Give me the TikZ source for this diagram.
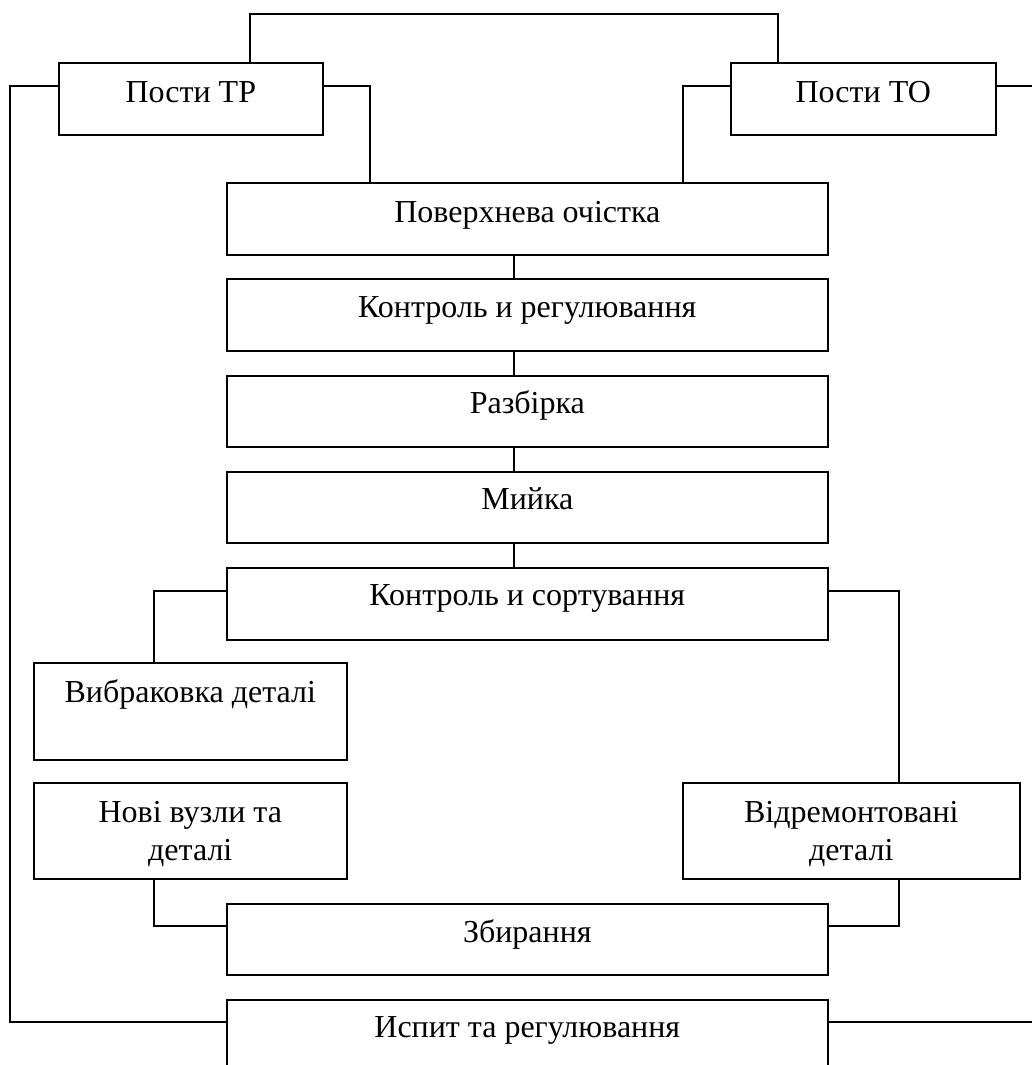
\documentclass[tikz,border=0pt]{standalone}
\usepackage{fontspec}
\setmainfont{Liberation Serif}
\usetikzlibrary{calc}
\begin{document}
\begin{tikzpicture}[x=1pt,y=-1pt,
  box/.style={draw, line width=1.6pt, inner sep=0pt, anchor=north west},
  lbl/.style={anchor=base, font=\fontsize{32}{38}\selectfont, inner sep=0pt, align=center},
  conn/.style={line width=1.4pt}]
\useasboundingbox (0,0) rectangle (1032,1065);
\clip (0,0) rectangle (1032,1065);
% boxes
\node[box, minimum width=264pt, minimum height=72pt] (tr) at (58,62) {};
\node[box, minimum width=265pt, minimum height=72pt] (to) at (730,62) {};
\node[box, minimum width=601pt, minimum height=72pt] (pov) at (226,182) {};
\node[box, minimum width=601pt, minimum height=72pt] (kr) at (226,278) {};
\node[box, minimum width=601pt, minimum height=71pt] (rozb) at (226,375) {};
\node[box, minimum width=601pt, minimum height=71pt] (myi) at (226,471) {};
\node[box, minimum width=601pt, minimum height=72pt] (ks) at (226,567) {};
\node[box, minimum width=313pt, minimum height=97pt] (vyb) at (33,662) {};
\node[box, minimum width=313pt, minimum height=96pt] (nov) at (33,782) {};
\node[box, minimum width=337pt, minimum height=96pt] (vidr) at (682,782) {};
\node[box, minimum width=601pt, minimum height=71pt] (zb) at (226,903) {};
\node[box, minimum width=601pt, minimum height=120pt] (isp) at (226,999) {};
% labels
\node[lbl] (ttr) at ($(tr.north)+(0,40)$) {Пости ТР};
\node[lbl] (tto) at ($(to.north)+(0,40)$) {Пости ТО};
\node[lbl] (tpov) at ($(pov.north)+(0,40)$) {Поверхнева очістка};
\node[lbl] (tkr) at ($(kr.north)+(0,39)$) {Контроль и регулювання};
\node[lbl] (trozb) at ($(rozb.north)+(0,38)$) {Разбірка};
\node[lbl] (tmyi) at ($(myi.north)+(0,38)$) {Мийка};
\node[lbl] (tks) at ($(ks.north)+(0,38)$) {Контроль и сортування};
\node[lbl] (tvyb) at ($(vyb.north)+(0,40)$) {Вибраковка деталі};
\node[lbl] (tnov) at ($(nov.north)+(0,78)$) {Нові вузли та\\деталі};
\node[lbl] (tvidr) at ($(vidr.north)+(0,78)$) {Відремонтовані\\деталі};
\node[lbl] (tzb) at ($(zb.north)+(0,39)$) {Збирання};
\node[lbl] (tisp) at ($(isp.north)+(0,38)$) {Испит та регулювання};
% helper coordinates
\coordinate (topL) at (250,14);
\coordinate (topR) at (778,14);
\coordinate (a) at (370,86);
\coordinate (b) at (683,86);
\coordinate (lft) at (10,86);
\coordinate (lfb) at (10,1022);
\coordinate (re) at (1040,86);
\coordinate (re2) at (1040,1022);
\coordinate (cx) at (514,0);
\coordinate (c) at (154,591);
\coordinate (d) at (899,591);
\coordinate (e) at (154,926);
\coordinate (f) at (899,926);
% connectors
\draw[conn] (tr.north -| topL) -- (topL) -- (topR) -- (to.north -| topR);
\draw[conn] (tr.east |- a) -- (a) -- (a |- pov.north);
\draw[conn] (to.west |- b) -- (b) -- (b |- pov.north);
\draw[conn] (tr.west |- lft) -- (lft) -- (lfb) -- (isp.west |- lfb);
\draw[conn] (to.east |- re) -- (re);
\draw[conn] (isp.east |- re2) -- (re2);
\draw[conn] (pov.south -| cx) -- (kr.north -| cx);
\draw[conn] (kr.south -| cx) -- (rozb.north -| cx);
\draw[conn] (rozb.south -| cx) -- (myi.north -| cx);
\draw[conn] (myi.south -| cx) -- (ks.north -| cx);
\draw[conn] (ks.west |- c) -- (c) -- (c |- vyb.north);
\draw[conn] (ks.east |- d) -- (d) -- (d |- vidr.north);
\draw[conn] (nov.south -| e) -- (e) -- (zb.west |- e);
\draw[conn] (vidr.south -| f) -- (f) -- (zb.east |- f);
\end{tikzpicture}
\end{document}
